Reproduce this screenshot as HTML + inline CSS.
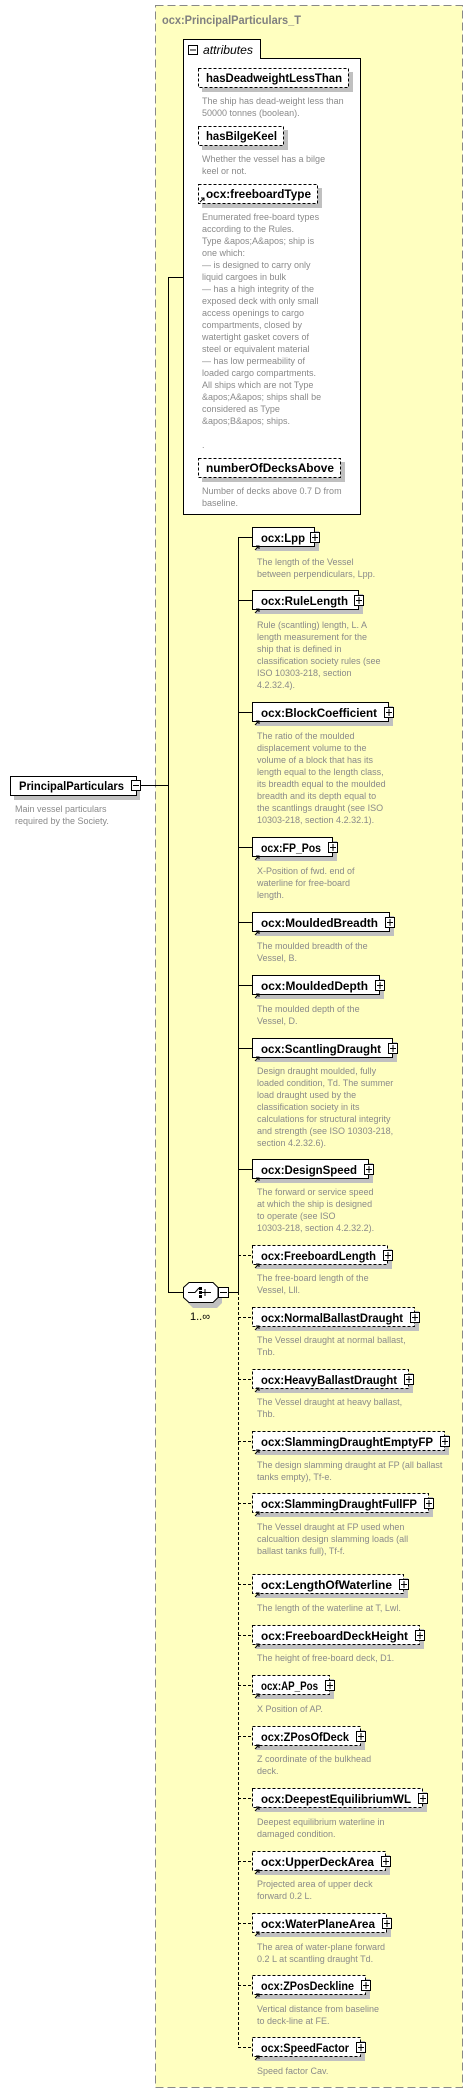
<!DOCTYPE html>
<html><head><meta charset="utf-8"><style>
html,body{margin:0;padding:0;background:#fff;}
svg{display:block;font-family:"DejaVu Sans","Liberation Sans",sans-serif;}
.l{font-family:"Liberation Sans",sans-serif;font-weight:bold;font-size:11.5px;fill:#000;}
.d{font-family:"Liberation Sans",sans-serif;font-size:9px;fill:#8a8a8a;}
.sh{fill:#c0c0c0;}
.bx{fill:#fff;stroke:#000;stroke-width:1;}
.ds{stroke-dasharray:3,2;}
</style></head><body>
<svg width="473" height="2098" viewBox="0 0 473 2098" xmlns="http://www.w3.org/2000/svg">
<rect x="155.5" y="5.5" width="307" height="2082" fill="#ffffc0" stroke="#888" stroke-dasharray="8,4"/>
<text x="162" y="24" textLength="139" lengthAdjust="spacingAndGlyphs" style="font-family:'Liberation Sans',sans-serif;font-weight:bold;font-size:12px;fill:#808080">ocx:PrincipalParticulars_T</text>

<!-- attributes -->
<rect x="183.5" y="58.5" width="177" height="456" fill="#fff" stroke="#000"/>
<rect x="183.5" y="39.5" width="77" height="19" fill="#fff" stroke="#000"/>
<rect x="184" y="57" width="76" height="3" fill="#fff"/>
<rect x="188.5" y="45.5" width="9" height="9" fill="#fff" stroke="#000"/>
<line x1="190" y1="50" x2="196" y2="50" stroke="#000"/>
<text x="203" y="54" textLength="50" lengthAdjust="spacingAndGlyphs" style="font-family:'Liberation Sans',sans-serif;font-style:italic;font-size:12px">attributes</text>

<rect class="sh" x="202" y="72" width="151" height="20"/>
<rect class="bx ds" x="198.5" y="68.5" width="150" height="19"/>
<text class="l" x="206" y="82" textLength="136" lengthAdjust="spacingAndGlyphs">hasDeadweightLessThan</text>
<text class="d" x="202" y="104">The ship has dead-weight less than</text>
<text class="d" x="202" y="116">50000 tonnes (boolean).</text>

<rect class="sh" x="202" y="130" width="86" height="20"/>
<rect class="bx ds" x="198.5" y="126.5" width="85" height="19"/>
<text class="l" x="206" y="140" textLength="71" lengthAdjust="spacingAndGlyphs">hasBilgeKeel</text>
<text class="d" x="202" y="162">Whether the vessel has a bilge</text>
<text class="d" x="202" y="174">keel or not.</text>

<rect class="sh" x="202" y="188" width="120" height="20"/>
<rect class="bx ds" x="198.5" y="184.5" width="119" height="19"/>
<path d="M200 202 L204 198 M201 198 L204 198 L204 201" stroke="#000" fill="none"/>
<text class="l" x="206" y="198" textLength="105" lengthAdjust="spacingAndGlyphs">ocx:freeboardType</text>
<g class="d">
<text x="202" y="220">Enumerated free-board types</text>
<text x="202" y="232">according to the Rules.</text>
<text x="202" y="244">Type &amp;apos;A&amp;apos; ship is</text>
<text x="202" y="256">one which:</text>
<text x="202" y="268">— is designed to carry only</text>
<text x="202" y="280">liquid cargoes in bulk</text>
<text x="202" y="292">— has a high integrity of the</text>
<text x="202" y="304">exposed deck with only small</text>
<text x="202" y="316">access openings to cargo</text>
<text x="202" y="328">compartments, closed by</text>
<text x="202" y="340">watertight gasket covers of</text>
<text x="202" y="352">steel or equivalent material</text>
<text x="202" y="364">— has low permeability of</text>
<text x="202" y="376">loaded cargo compartments.</text>
<text x="202" y="388">All ships which are not Type</text>
<text x="202" y="400">&amp;apos;A&amp;apos; ships shall be</text>
<text x="202" y="412">considered as Type</text>
<text x="202" y="424">&amp;apos;B&amp;apos; ships.</text>
<text x="202" y="448">.</text>
</g>

<rect class="sh" x="202" y="462" width="143" height="20"/>
<rect class="bx ds" x="198.5" y="458.5" width="142" height="19"/>
<text class="l" x="206" y="472" textLength="128" lengthAdjust="spacingAndGlyphs">numberOfDecksAbove</text>
<text class="d" x="202" y="494">Number of decks above 0.7 D from</text>
<text class="d" x="202" y="506">baseline.</text>

<!-- left connectors -->
<path d="M183 277.5 H168.5 V1292" stroke="#000" fill="none"/>
<line x1="141" y1="785.5" x2="168" y2="785.5" stroke="#000"/>

<rect class="sh" x="14" y="780" width="126" height="20"/>
<rect class="bx" x="10.5" y="776.5" width="126" height="19"/>
<text class="l" x="19" y="790" textLength="105" lengthAdjust="spacingAndGlyphs">PrincipalParticulars</text>
<rect class="bx" x="131.5" y="780.5" width="9" height="10"/>
<line x1="133" y1="785.5" x2="139" y2="785.5" stroke="#000"/>
<text class="d" x="15" y="812">Main vessel particulars</text>
<text class="d" x="15" y="824">required by the Society.</text>

<!-- compositor -->
<line x1="168" y1="1292.5" x2="183" y2="1292.5" stroke="#000"/>
<polygon class="sh" points="193,1289 217,1289 222,1294 222,1303 217,1308 193,1308 188,1303 188,1294"/>
<polygon points="189,1282.5 213,1282.5 218,1287.5 218,1297.5 213,1302.5 189,1302.5 183.5,1297.5 183.5,1287.5" fill="#fff" stroke="#000"/>
<path d="M188 1292.5 H195 L199 1288 M199 1292.5 H207 M205 1289 V1296 M205 1292.5 H211" stroke="#000" fill="none"/>
<rect x="199" y="1287" width="3" height="3"/><rect x="199" y="1291" width="3" height="3"/><rect x="199" y="1295" width="3" height="3"/>
<rect class="bx" x="218.5" y="1287.5" width="10" height="10"/>
<line x1="220" y1="1292.5" x2="227" y2="1292.5" stroke="#000"/>
<text x="190" y="1320" style="font-family:'Liberation Sans',sans-serif;font-size:11px">1..∞</text>
<line x1="228" y1="1292.5" x2="238" y2="1292.5" stroke="#000"/>

<!-- vertical connectors -->
<line x1="238.5" y1="537" x2="238.5" y2="1292" stroke="#000"/>
<line x1="238.5" y1="1292" x2="238.5" y2="2047" stroke="#000" stroke-dasharray="3,2"/>

<g id="items">
<line x1="238" y1="537.5" x2="252" y2="537.5" stroke="#000"/>
<rect class="sh" x="256" y="531" width="63" height="20"/>
<rect class="bx" x="252.5" y="527.5" width="62" height="19"/>
<text class="l" x="261" y="542" textLength="44" lengthAdjust="spacingAndGlyphs">ocx:Lpp</text>
<text class="d" x="257" y="565">The length of the Vessel</text>
<text class="d" x="257" y="577">between perpendiculars, Lpp.</text>

<line x1="238" y1="600.5" x2="252" y2="600.5" stroke="#000"/>
<rect class="sh" x="256" y="594" width="107" height="20"/>
<rect class="bx" x="252.5" y="590.5" width="106" height="19"/>
<text class="l" x="261" y="605" textLength="87" lengthAdjust="spacingAndGlyphs">ocx:RuleLength</text>
<g class="d"><text x="257" y="628">Rule (scantling) length, L. A</text><text x="257" y="640">length measurement for the</text><text x="257" y="652">ship that is defined in</text><text x="257" y="664">classification society rules (see</text><text x="257" y="676">ISO 10303-218, section</text><text x="257" y="688">4.2.32.4).</text></g>

<line x1="238" y1="712.5" x2="252" y2="712.5" stroke="#000"/>
<rect class="sh" x="256" y="706" width="137" height="20"/>
<rect class="bx" x="252.5" y="702.5" width="136" height="19"/>
<text class="l" x="261" y="717" textLength="116" lengthAdjust="spacingAndGlyphs">ocx:BlockCoefficient</text>
<g class="d"><text x="257" y="739">The ratio of the moulded</text><text x="257" y="751">displacement volume to the</text><text x="257" y="763">volume of a block that has its</text><text x="257" y="775">length equal to the length class,</text><text x="257" y="787">its breadth equal to the moulded</text><text x="257" y="799">breadth and its depth equal to</text><text x="257" y="811">the scantlings draught (see ISO</text><text x="257" y="823">10303-218, section 4.2.32.1).</text></g>

<line x1="238" y1="847.5" x2="252" y2="847.5" stroke="#000"/>
<rect class="sh" x="256" y="841" width="81" height="20"/>
<rect class="bx" x="252.5" y="837.5" width="80" height="19"/>
<text class="l" x="261" y="852" textLength="60" lengthAdjust="spacingAndGlyphs">ocx:FP_Pos</text>
<g class="d"><text x="257" y="874">X-Position of fwd. end of</text><text x="257" y="886">waterline for free-board</text><text x="257" y="898">length.</text></g>

<line x1="238" y1="922.5" x2="252" y2="922.5" stroke="#000"/>
<rect class="sh" x="256" y="916" width="138" height="20"/>
<rect class="bx" x="252.5" y="912.5" width="137" height="19"/>
<text class="l" x="261" y="927" textLength="117" lengthAdjust="spacingAndGlyphs">ocx:MouldedBreadth</text>
<g class="d"><text x="257" y="949">The moulded breadth of the</text><text x="257" y="961">Vessel, B.</text></g>

<line x1="238" y1="985.5" x2="252" y2="985.5" stroke="#000"/>
<rect class="sh" x="256" y="979" width="128" height="20"/>
<rect class="bx" x="252.5" y="975.5" width="127" height="19"/>
<text class="l" x="261" y="990" textLength="107" lengthAdjust="spacingAndGlyphs">ocx:MouldedDepth</text>
<g class="d"><text x="257" y="1012">The moulded depth of the</text><text x="257" y="1024">Vessel, D.</text></g>

<line x1="238" y1="1048.5" x2="252" y2="1048.5" stroke="#000"/>
<rect class="sh" x="256" y="1042" width="141" height="20"/>
<rect class="bx" x="252.5" y="1038.5" width="140" height="19"/>
<text class="l" x="261" y="1053" textLength="120" lengthAdjust="spacingAndGlyphs">ocx:ScantlingDraught</text>
<g class="d"><text x="257" y="1074">Design draught moulded, fully</text><text x="257" y="1086">loaded condition, Td. The summer</text><text x="257" y="1098">load draught used by the</text><text x="257" y="1110">classification society in its</text><text x="257" y="1122">calculations for structural integrity</text><text x="257" y="1134">and strength (see ISO 10303-218,</text><text x="257" y="1146">section 4.2.32.6).</text></g>

<line x1="238" y1="1169.5" x2="252" y2="1169.5" stroke="#000"/>
<rect class="sh" x="256" y="1163" width="117" height="20"/>
<rect class="bx" x="252.5" y="1159.5" width="116" height="19"/>
<text class="l" x="261" y="1174" textLength="96" lengthAdjust="spacingAndGlyphs">ocx:DesignSpeed</text>
<g class="d"><text x="257" y="1195">The forward or service speed</text><text x="257" y="1207">at which the ship is designed</text><text x="257" y="1219">to operate (see ISO</text><text x="257" y="1231">10303-218, section 4.2.32.2).</text></g>
</g>

<g id="opt">
<line x1="238" y1="1255.5" x2="252" y2="1255.5" stroke="#000" stroke-dasharray="3,2"/>
<rect class="sh" x="256" y="1249" width="136" height="20"/>
<rect class="bx ds" x="252.5" y="1245.5" width="135" height="19"/>
<text class="l" x="261" y="1260" textLength="115" lengthAdjust="spacingAndGlyphs">ocx:FreeboardLength</text>
<g class="d"><text x="257" y="1281">The free-board length of the</text><text x="257" y="1293">Vessel, Lll.</text></g>

<line x1="238" y1="1317.5" x2="252" y2="1317.5" stroke="#000" stroke-dasharray="3,2"/>
<rect class="sh" x="256" y="1311" width="163" height="20"/>
<rect class="bx ds" x="252.5" y="1307.5" width="162" height="19"/>
<text class="l" x="261" y="1322" textLength="142" lengthAdjust="spacingAndGlyphs">ocx:NormalBallastDraught</text>
<g class="d"><text x="257" y="1343">The Vessel draught at normal ballast,</text><text x="257" y="1355">Tnb.</text></g>

<line x1="238" y1="1379.5" x2="252" y2="1379.5" stroke="#000" stroke-dasharray="3,2"/>
<rect class="sh" x="256" y="1373" width="157" height="20"/>
<rect class="bx ds" x="252.5" y="1369.5" width="156" height="19"/>
<text class="l" x="261" y="1384" textLength="136" lengthAdjust="spacingAndGlyphs">ocx:HeavyBallastDraught</text>
<g class="d"><text x="257" y="1405">The Vessel draught at heavy ballast,</text><text x="257" y="1417">Thb.</text></g>

<line x1="238" y1="1441.5" x2="252" y2="1441.5" stroke="#000" stroke-dasharray="3,2"/>
<rect class="sh" x="256" y="1435" width="193" height="20"/>
<rect class="bx ds" x="252.5" y="1431.5" width="192" height="19"/>
<text class="l" x="261" y="1446" textLength="172" lengthAdjust="spacingAndGlyphs">ocx:SlammingDraughtEmptyFP</text>
<g class="d"><text x="257" y="1468">The design slamming draught at FP (all ballast</text><text x="257" y="1480">tanks empty), Tf-e.</text></g>

<line x1="238" y1="1503.5" x2="252" y2="1503.5" stroke="#000" stroke-dasharray="3,2"/>
<rect class="sh" x="256" y="1497" width="177" height="20"/>
<rect class="bx ds" x="252.5" y="1493.5" width="176" height="19"/>
<text class="l" x="261" y="1508" textLength="156" lengthAdjust="spacingAndGlyphs">ocx:SlammingDraughtFullFP</text>
<g class="d"><text x="257" y="1530">The Vessel draught at FP used when</text><text x="257" y="1542">calcualtion design slamming loads (all</text><text x="257" y="1554">ballast tanks full), Tf-f.</text></g>

<line x1="238" y1="1584.5" x2="252" y2="1584.5" stroke="#000" stroke-dasharray="3,2"/>
<rect class="sh" x="256" y="1578" width="152" height="20"/>
<rect class="bx ds" x="252.5" y="1574.5" width="151" height="19"/>
<text class="l" x="261" y="1589" textLength="131" lengthAdjust="spacingAndGlyphs">ocx:LengthOfWaterline</text>
<g class="d"><text x="257" y="1611">The length of the waterline at T, Lwl.</text></g>

<line x1="238" y1="1635.5" x2="252" y2="1635.5" stroke="#000" stroke-dasharray="3,2"/>
<rect class="sh" x="256" y="1629" width="168" height="20"/>
<rect class="bx ds" x="252.5" y="1625.5" width="167" height="19"/>
<text class="l" x="261" y="1640" textLength="147" lengthAdjust="spacingAndGlyphs">ocx:FreeboardDeckHeight</text>
<g class="d"><text x="257" y="1661">The height of free-board deck, D1.</text></g>

<line x1="238" y1="1685.5" x2="252" y2="1685.5" stroke="#000" stroke-dasharray="3,2"/>
<rect class="sh" x="256" y="1679" width="78" height="20"/>
<rect class="bx ds" x="252.5" y="1675.5" width="77" height="19"/>
<text class="l" x="261" y="1690" textLength="57" lengthAdjust="spacingAndGlyphs">ocx:AP_Pos</text>
<g class="d"><text x="257" y="1712">X Position of AP.</text></g>

<line x1="238" y1="1736.5" x2="252" y2="1736.5" stroke="#000" stroke-dasharray="3,2"/>
<rect class="sh" x="256" y="1730" width="109" height="20"/>
<rect class="bx ds" x="252.5" y="1726.5" width="108" height="19"/>
<text class="l" x="261" y="1741" textLength="88" lengthAdjust="spacingAndGlyphs">ocx:ZPosOfDeck</text>
<g class="d"><text x="257" y="1762">Z coordinate of the bulkhead</text><text x="257" y="1774">deck.</text></g>

<line x1="238" y1="1798.5" x2="252" y2="1798.5" stroke="#000" stroke-dasharray="3,2"/>
<rect class="sh" x="256" y="1792" width="171" height="20"/>
<rect class="bx ds" x="252.5" y="1788.5" width="170" height="19"/>
<text class="l" x="261" y="1803" textLength="150" lengthAdjust="spacingAndGlyphs">ocx:DeepestEquilibriumWL</text>
<g class="d"><text x="257" y="1825">Deepest equilibrium waterline in</text><text x="257" y="1837">damaged condition.</text></g>

<line x1="238" y1="1861.5" x2="252" y2="1861.5" stroke="#000" stroke-dasharray="3,2"/>
<rect class="sh" x="256" y="1855" width="134" height="20"/>
<rect class="bx ds" x="252.5" y="1851.5" width="133" height="19"/>
<text class="l" x="261" y="1866" textLength="113" lengthAdjust="spacingAndGlyphs">ocx:UpperDeckArea</text>
<g class="d"><text x="257" y="1887">Projected area of upper deck</text><text x="257" y="1899">forward 0.2 L.</text></g>

<line x1="238" y1="1923.5" x2="252" y2="1923.5" stroke="#000" stroke-dasharray="3,2"/>
<rect class="sh" x="256" y="1917" width="135" height="20"/>
<rect class="bx ds" x="252.5" y="1913.5" width="134" height="19"/>
<text class="l" x="261" y="1928" textLength="114" lengthAdjust="spacingAndGlyphs">ocx:WaterPlaneArea</text>
<g class="d"><text x="257" y="1950">The area of water-plane forward</text><text x="257" y="1962">0.2 L at scantling draught Td.</text></g>

<line x1="238" y1="1985.5" x2="252" y2="1985.5" stroke="#000" stroke-dasharray="3,2"/>
<rect class="sh" x="256" y="1979" width="114" height="20"/>
<rect class="bx ds" x="252.5" y="1975.5" width="113" height="19"/>
<text class="l" x="261" y="1990" textLength="93" lengthAdjust="spacingAndGlyphs">ocx:ZPosDeckline</text>
<g class="d"><text x="257" y="2012">Vertical distance from baseline</text><text x="257" y="2024">to deck-line at FE.</text></g>

<line x1="238" y1="2047.5" x2="252" y2="2047.5" stroke="#000" stroke-dasharray="3,2"/>
<rect class="sh" x="256" y="2041" width="109" height="20"/>
<rect class="bx ds" x="252.5" y="2037.5" width="108" height="19"/>
<text class="l" x="261" y="2052" textLength="88" lengthAdjust="spacingAndGlyphs">ocx:SpeedFactor</text>
<g class="d"><text x="257" y="2074">Speed factor Cav.</text></g>
</g>

<!-- arrows and plus boxes -->
<g stroke="#000" fill="none">
<path d="M255 550 L259 546 M256 546 L259 546 L259 549"/>
<path d="M255 613 L259 609 M256 609 L259 609 L259 612"/>
<path d="M255 725 L259 721 M256 721 L259 721 L259 724"/>
<path d="M255 860 L259 856 M256 856 L259 856 L259 859"/>
<path d="M255 935 L259 931 M256 931 L259 931 L259 934"/>
<path d="M255 998 L259 994 M256 994 L259 994 L259 997"/>
<path d="M255 1061 L259 1057 M256 1057 L259 1057 L259 1060"/>
<path d="M255 1182 L259 1178 M256 1178 L259 1178 L259 1181"/>
<path d="M255 1268 L259 1264 M256 1264 L259 1264 L259 1267"/>
<path d="M255 1330 L259 1326 M256 1326 L259 1326 L259 1329"/>
<path d="M255 1392 L259 1388 M256 1388 L259 1388 L259 1391"/>
<path d="M255 1454 L259 1450 M256 1450 L259 1450 L259 1453"/>
<path d="M255 1516 L259 1512 M256 1512 L259 1512 L259 1515"/>
<path d="M255 1597 L259 1593 M256 1593 L259 1593 L259 1596"/>
<path d="M255 1648 L259 1644 M256 1644 L259 1644 L259 1647"/>
<path d="M255 1698 L259 1694 M256 1694 L259 1694 L259 1697"/>
<path d="M255 1749 L259 1745 M256 1745 L259 1745 L259 1748"/>
<path d="M255 1811 L259 1807 M256 1807 L259 1807 L259 1810"/>
<path d="M255 1874 L259 1870 M256 1870 L259 1870 L259 1873"/>
<path d="M255 1936 L259 1932 M256 1932 L259 1932 L259 1935"/>
<path d="M255 1998 L259 1994 M256 1994 L259 1994 L259 1997"/>
<path d="M255 2060 L259 2056 M256 2056 L259 2056 L259 2059"/>
</g>
<g fill="#fff" stroke="#000">
<rect x="310.5" y="532.5" width="9" height="10"/><path d="M312 537.5H318M315 534V541"/>
<rect x="354.5" y="595.5" width="9" height="10"/><path d="M356 600.5H362M359 597V604"/>
<rect x="384.5" y="707.5" width="9" height="10"/><path d="M386 712.5H392M389 709V716"/>
<rect x="328.5" y="842.5" width="9" height="10"/><path d="M330 847.5H336M333 844V851"/>
<rect x="385.5" y="917.5" width="9" height="10"/><path d="M387 922.5H393M390 919V926"/>
<rect x="375.5" y="980.5" width="9" height="10"/><path d="M377 985.5H383M380 982V989"/>
<rect x="388.5" y="1043.5" width="9" height="10"/><path d="M390 1048.5H396M393 1045V1052"/>
<rect x="364.5" y="1164.5" width="9" height="10"/><path d="M366 1169.5H372M369 1166V1173"/>
<rect x="383.5" y="1250.5" width="9" height="10"/><path d="M385 1255.5H391M388 1252V1259"/>
<rect x="410.5" y="1312.5" width="9" height="10"/><path d="M412 1317.5H418M415 1314V1321"/>
<rect x="404.5" y="1374.5" width="9" height="10"/><path d="M406 1379.5H412M409 1376V1383"/>
<rect x="440.5" y="1436.5" width="9" height="10"/><path d="M442 1441.5H448M445 1438V1445"/>
<rect x="424.5" y="1498.5" width="9" height="10"/><path d="M426 1503.5H432M429 1500V1507"/>
<rect x="399.5" y="1579.5" width="9" height="10"/><path d="M401 1584.5H407M404 1581V1588"/>
<rect x="415.5" y="1630.5" width="9" height="10"/><path d="M417 1635.5H423M420 1632V1639"/>
<rect x="325.5" y="1680.5" width="9" height="10"/><path d="M327 1685.5H333M330 1682V1689"/>
<rect x="356.5" y="1731.5" width="9" height="10"/><path d="M358 1736.5H364M361 1733V1740"/>
<rect x="418.5" y="1793.5" width="9" height="10"/><path d="M420 1798.5H426M423 1795V1802"/>
<rect x="381.5" y="1856.5" width="9" height="10"/><path d="M383 1861.5H389M386 1858V1865"/>
<rect x="382.5" y="1918.5" width="9" height="10"/><path d="M384 1923.5H390M387 1920V1927"/>
<rect x="361.5" y="1980.5" width="9" height="10"/><path d="M363 1985.5H369M366 1982V1989"/>
<rect x="356.5" y="2042.5" width="9" height="10"/><path d="M358 2047.5H364M361 2044V2051"/>
</g>
</svg>
</body></html>
